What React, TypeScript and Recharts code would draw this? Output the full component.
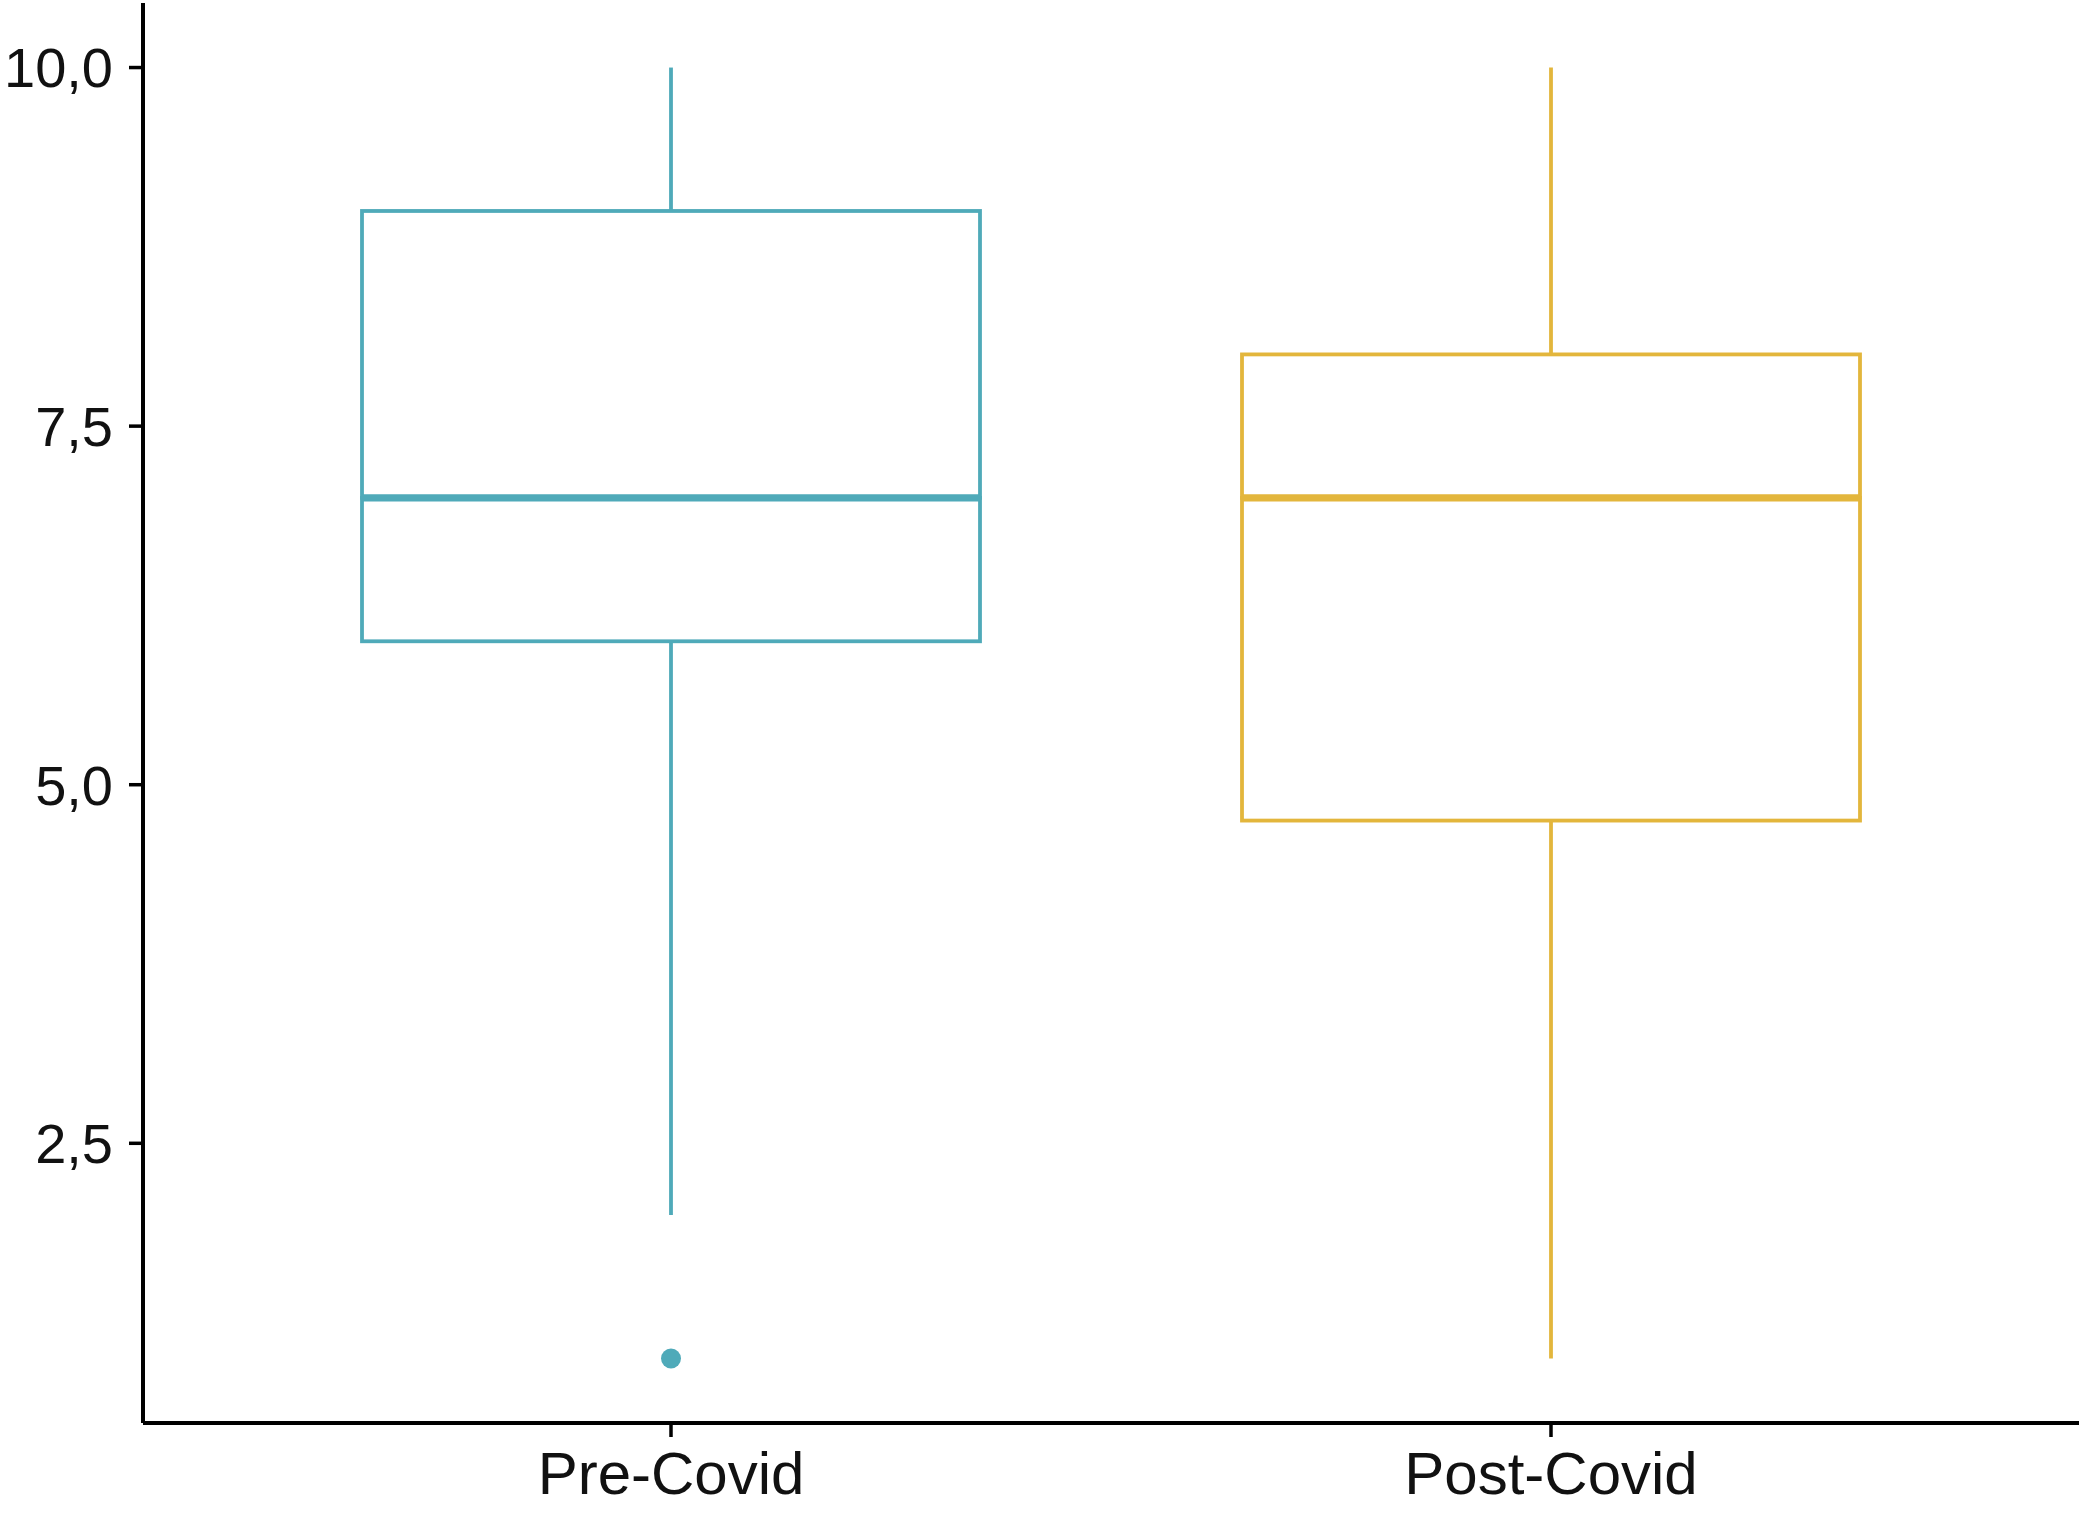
import {
  ComposedChart,
  Bar,
  Line,
  XAxis,
  YAxis,
} from "recharts";

// box plot summary per group
const categories = ["Pre-Covid", "Post-Covid"];
const whiskerLow = [2, 1];
const lowerQuartile = [6, 4.75];
const medians = [7, 7];
const upperQuartile = [9, 8];
const whiskerHigh = [10, 10];
const outliers: (number | null)[] = [1, null];
const yTicks = [2.5, 5, 7.5, 10];
const groupColors = ["#4FAAB9", "#E3B63C"];

const data = categories.map((name, i) => ({
  name,
  base: whiskerLow[i],
  lowWhisker: lowerQuartile[i] - whiskerLow[i],
  lowBox: medians[i] - lowerQuartile[i],
  highBox: upperQuartile[i] - medians[i],
  highWhisker: whiskerHigh[i] - upperQuartile[i],
  outlier: outliers[i],
}));

const LINE_W = 3.8;
const MEDIAN_W = 7.2;

const Whisker = (props: any) => {
  const { x, y, width, height, index } = props;
  const cx = x + width / 2;
  return (
    <line
      x1={cx}
      x2={cx}
      y1={y}
      y2={y + height}
      stroke={groupColors[index]}
      strokeWidth={LINE_W}
    />
  );
};

const LowerBox = (props: any) => {
  const { x, y, width, height, index } = props;
  return (
    <rect
      x={x}
      y={y}
      width={width}
      height={height}
      fill="#fff"
      stroke={groupColors[index]}
      strokeWidth={LINE_W}
    />
  );
};

// upper half of the box, its bottom edge is the median
const UpperBox = (props: any) => {
  const { x, y, width, height, index } = props;
  return (
    <g>
      <rect
        x={x}
        y={y}
        width={width}
        height={height}
        fill="none"
        stroke={groupColors[index]}
        strokeWidth={LINE_W}
      />
      <line
        x1={x}
        x2={x + width}
        y1={y + height}
        y2={y + height}
        stroke={groupColors[index]}
        strokeWidth={MEDIAN_W}
      />
    </g>
  );
};

const OutlierDot = (props: any) => {
  const { cx, cy, payload, index } = props;
  if (payload == null || payload.outlier == null || cy == null) {
    return <g key={`o-${index}`} />;
  }
  return <circle key={`o-${index}`} cx={cx} cy={cy} r={10} fill={groupColors[index]} />;
};

const font = "'Liberation Sans', Arial, sans-serif";

export default function App() {
  return (
    <div
      style={{
        position: "fixed",
        left: 0,
        top: 0,
        width: 2083,
        height: 1532,
        background: "#fff",
      }}
    >
      <ComposedChart
        width={2083}
        height={1532}
        data={data}
        margin={{ top: 3, right: 4, left: 0, bottom: 0 }}
      >
        <XAxis
          dataKey="name"
          type="category"
          height={109}
          padding={{ left: 88, right: 88 }}
          tick={{ fontFamily: font, fontSize: 60, fill: "#111" }}
          tickSize={14}
          tickMargin={14}
          axisLine={{ stroke: "#000", strokeWidth: 4 }}
          tickLine={{ stroke: "#000", strokeWidth: 3.5 }}
          interval={0}
        />
        <YAxis
          type="number"
          width={143}
          domain={[0.55, 10.45]}
          ticks={yTicks}
          allowDataOverflow
          tickFormatter={(v: number) => v.toFixed(1).replace(".", ",")}
          tick={{ fontFamily: font, fontSize: 56, fill: "#111" }}
          tickSize={14}
          tickMargin={16}
          axisLine={{ stroke: "#000", strokeWidth: 4 }}
          tickLine={{ stroke: "#000", strokeWidth: 3.5 }}
        />
        <Bar dataKey="base" stackId="box" barSize={618} fill="none" isAnimationActive={false} />
        <Bar dataKey="lowWhisker" stackId="box" barSize={618} shape={Whisker} isAnimationActive={false} />
        <Bar dataKey="lowBox" stackId="box" barSize={618} shape={LowerBox} isAnimationActive={false} />
        <Bar dataKey="highBox" stackId="box" barSize={618} shape={UpperBox} isAnimationActive={false} />
        <Bar dataKey="highWhisker" stackId="box" barSize={618} shape={Whisker} isAnimationActive={false} />
        <Line
          dataKey="outlier"
          stroke="none"
          dot={OutlierDot}
          activeDot={false}
          isAnimationActive={false}
        />
      </ComposedChart>
    </div>
  );
}
